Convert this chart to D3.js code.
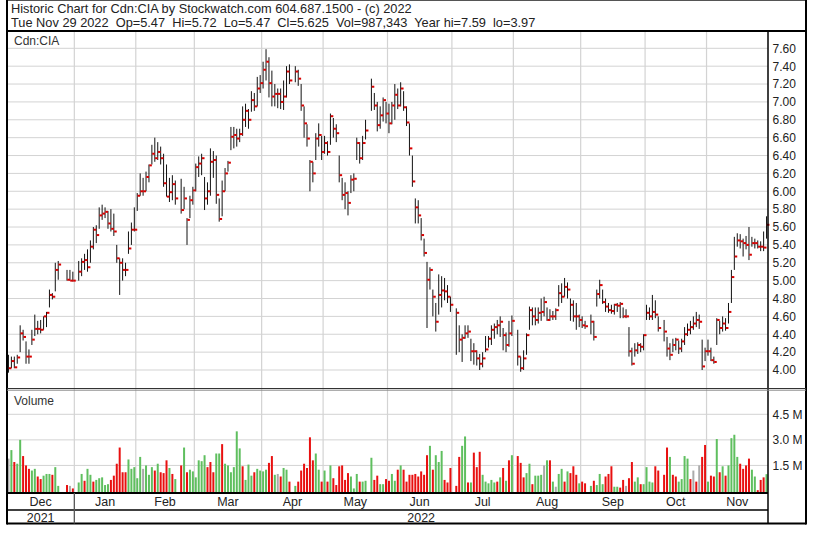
<!DOCTYPE html>
<html><head><meta charset="utf-8">
<script src="https://cdn.jsdelivr.net/npm/d3@7"></script>
<style>
body{margin:0;background:#fff}
svg{display:block}
text{font-family:"Liberation Sans",Arial,sans-serif}
</style>
</head><body>
<svg id="c" width="817" height="534"></svg>
<script>
// ---------------- DATA ----------------
const titleLine1 = "Historic Chart for Cdn:CIA by Stockwatch.com 604.687.1500 - (c) 2022";
const titleLine2 = "Tue Nov 29 2022  Op=5.47  Hi=5.72  Lo=5.47  Cl=5.625  Vol=987,343  Year hi=7.59  lo=3.97";
const symbolLabel = "Cdn:CIA";
const volumeLabel = "Volume";
const firstDay = "2021-12-01", lastDay = "2022-11-29";
const holidays = ["2021-12-27","2021-12-28","2022-01-03","2022-02-21","2022-04-15","2022-05-23","2022-07-01","2022-08-01","2022-09-05","2022-10-10"];
const monthNames = ["Dec","Jan","Feb","Mar","Apr","May","Jun","Jul","Aug","Sep","Oct","Nov"];
const yearLabels = ["2021","2022"];
const priceTicks = [4.00,4.20,4.40,4.60,4.80,5.00,5.20,5.40,5.60,5.80,6.00,6.20,6.40,6.60,6.80,7.00,7.20,7.40,7.60];
const volumeTicks = [1.5,3.0,4.5];            // millions
const volumeTickLabels = ["1.5 M","3.0 M","4.5 M"];

// one value per trading day, month by month
const highs = [
 4.17,4.15,4.15,4.17,4.50,4.45,4.32,4.23,4.45,4.62,4.55,4.56,4.60,4.65,4.90,4.86,5.20,5.22,5.12,5.12,5.10,
 5.22,5.25,5.30,5.35,5.45,5.60,5.62,5.82,5.85,5.82,5.78,5.80,5.75,5.40,5.25,5.25,5.20,5.55,5.65,5.82,
 5.98,6.20,6.15,6.22,6.30,6.52,6.60,6.55,6.50,6.42,6.30,6.15,6.18,6.12,6.14,6.05,5.70,5.95,6.05,
 6.31,6.39,6.42,6.16,6.10,6.48,6.45,6.40,5.92,6.12,6.26,6.34,6.72,6.72,6.70,6.70,6.95,6.98,6.92,7.12,7.10,7.28,7.30,
 7.45,7.59,7.50,7.35,7.20,7.15,7.15,7.24,7.40,7.42,7.40,7.36,7.20,6.95,6.75,6.35,6.33,6.65,6.76,6.62,
 6.62,6.56,6.87,6.82,6.75,6.40,6.15,6.10,6.00,6.18,6.20,6.60,6.55,6.62,6.80,7.26,7.10,7.00,6.95,7.05,7.00,
 6.98,7.00,7.20,7.15,7.22,7.12,6.95,6.76,6.40,5.92,5.90,5.70,5.47,5.21,5.15,4.90,4.75,5.07,5.05,5.03,4.95,4.82,
 4.69,4.50,4.40,4.50,4.50,4.35,4.30,4.22,4.18,4.20,4.38,4.38,4.50,4.52,4.56,4.60,4.47,4.42,4.55,4.61,
 4.45,4.15,4.22,4.41,4.71,4.70,4.70,4.70,4.80,4.82,4.70,4.68,4.66,4.69,4.95,4.97,5.03,4.98,4.80,4.78,4.75,4.62,
 4.60,4.55,4.62,4.55,4.90,5.01,4.90,4.80,4.75,4.73,4.74,4.75,4.76,4.70,4.68,4.48,4.25,4.30,4.31,4.30,4.40,
 4.73,4.70,4.84,4.78,4.60,4.56,4.37,4.30,4.35,4.36,4.33,4.35,4.48,4.52,4.55,4.60,4.65,4.62,4.34,4.25,
 4.34,4.25,4.15,4.58,4.55,4.60,4.58,4.75,5.12,5.49,5.53,5.52,5.47,5.50,5.60,5.49,5.47,5.45,5.44,5.55,5.72
];
const lows = [
 3.97,4.02,4.02,4.07,4.20,4.33,4.07,4.07,4.28,4.38,4.40,4.41,4.45,4.48,4.70,4.79,4.88,5.01,5.00,5.00,4.99,
 5.00,5.05,5.12,5.10,5.20,5.35,5.42,5.58,5.68,5.70,5.58,5.55,5.50,5.20,4.84,5.00,5.05,5.30,5.40,5.55,
 5.78,5.95,5.95,6.00,6.10,6.30,6.33,6.35,6.30,6.05,5.94,5.88,5.90,5.85,5.75,5.80,5.40,5.70,5.85,
 6.00,6.16,6.18,5.79,5.85,5.95,6.15,5.86,5.66,5.72,6.00,6.22,6.46,6.48,6.50,6.55,6.62,6.72,6.70,6.89,6.90,6.95,7.10,
 7.15,7.24,7.05,6.95,6.95,6.93,6.92,6.91,7.05,7.20,7.22,7.18,6.90,6.60,6.50,6.00,6.10,6.35,6.50,6.35,
 6.42,6.40,6.52,6.60,6.55,6.10,5.90,5.80,5.73,5.98,6.00,6.35,6.31,6.35,6.58,6.90,6.91,6.67,6.70,6.78,6.76,
 6.65,6.75,6.80,6.92,6.95,6.90,6.73,6.40,6.05,5.64,5.64,5.45,5.27,4.47,4.90,4.60,4.43,4.62,4.70,4.78,4.75,4.65,
 4.17,4.20,4.09,4.35,4.36,4.10,4.06,4.05,4.00,4.03,4.20,4.25,4.28,4.35,4.40,4.37,4.22,4.20,4.26,4.38,
 4.05,3.98,4.00,4.17,4.45,4.50,4.50,4.52,4.55,4.60,4.55,4.55,4.56,4.56,4.71,4.75,4.82,4.80,4.55,4.54,4.45,4.48,
 4.47,4.46,4.40,4.33,4.71,4.80,4.74,4.65,4.64,4.63,4.62,4.65,4.58,4.58,4.58,4.15,4.05,4.15,4.18,4.20,4.22,
 4.56,4.56,4.56,4.58,4.43,4.32,4.15,4.11,4.20,4.22,4.18,4.20,4.28,4.38,4.40,4.45,4.48,4.46,4.00,4.10,
 4.16,4.10,4.07,4.28,4.40,4.43,4.44,4.52,4.75,5.12,5.38,5.36,5.27,5.35,5.23,5.38,5.36,5.36,5.33,5.33,5.47
];
const closes = [
 4.02,4.10,4.03,4.14,4.41,4.37,4.15,4.15,4.34,4.46,4.46,4.45,4.60,4.64,4.84,4.82,5.12,5.18,5.01,5.00,5.00,
 5.10,5.21,5.23,5.15,5.38,5.57,5.51,5.73,5.75,5.77,5.64,5.58,5.55,5.25,5.20,5.12,5.12,5.36,5.57,5.57,
 5.95,6.00,6.00,6.16,6.29,6.42,6.37,6.44,6.37,6.09,5.94,5.99,6.08,5.92,5.79,5.92,5.68,5.90,6.01,
 6.27,6.31,6.37,5.92,6.00,6.33,6.35,5.96,5.69,6.00,6.20,6.32,6.61,6.63,6.59,6.64,6.80,6.90,6.80,7.02,6.95,7.15,7.21,
 7.36,7.45,7.21,7.06,7.09,7.09,7.00,7.06,7.34,7.24,7.34,7.26,6.96,6.76,6.59,6.33,6.20,6.59,6.63,6.44,
 6.54,6.44,6.84,6.70,6.65,6.18,5.96,5.98,5.87,6.13,6.14,6.54,6.37,6.54,6.68,7.17,6.96,6.74,6.85,7.02,6.87,
 6.76,6.96,7.08,6.96,7.15,6.94,6.77,6.48,6.11,5.82,5.73,5.51,5.31,5.01,5.12,4.82,4.54,4.84,4.89,4.88,4.82,4.73,
 4.64,4.34,4.36,4.41,4.43,4.21,4.21,4.13,4.07,4.13,4.23,4.35,4.45,4.48,4.50,4.54,4.39,4.28,4.41,4.55,
 4.15,4.02,4.13,4.39,4.67,4.60,4.56,4.64,4.65,4.76,4.56,4.60,4.60,4.67,4.86,4.82,4.93,4.90,4.73,4.60,4.60,4.56,
 4.50,4.49,4.54,4.37,4.85,4.95,4.76,4.71,4.67,4.66,4.73,4.72,4.74,4.60,4.60,4.21,4.07,4.22,4.28,4.26,4.39,
 4.64,4.60,4.65,4.62,4.47,4.43,4.24,4.17,4.28,4.34,4.24,4.32,4.40,4.45,4.48,4.52,4.56,4.54,4.04,4.21,
 4.21,4.11,4.09,4.56,4.47,4.52,4.47,4.65,5.04,5.27,5.45,5.44,5.42,5.40,5.29,5.42,5.42,5.38,5.38,5.37,5.625
];
const volumes = [ // millions
 1.9,2.4,1.7,1.6,3.0,2.05,1.5,1.3,1.2,1.3,0.85,0.7,0.9,1.0,1.0,0.95,1.4,0.3,0.35,0.3,0.15,
 0.5,1.0,0.6,1.3,0.95,0.55,0.65,0.75,0.8,0.35,0.4,0.65,0.9,1.6,2.55,1.1,1.1,1.85,1.3,1.4,
 0.75,2.0,1.3,1.5,0.95,1.4,1.2,1.6,1.1,1.05,1.8,1.35,1.0,0.7,1.5,2.55,1.1,1.25,1.15,
 0.8,1.8,1.75,2.1,1.4,1.7,1.1,2.2,2.2,2.75,1.6,1.5,1.1,1.4,3.5,2.5,1.45,0.65,1.55,0.9,1.1,1.3,1.2,
 1.15,1.25,1.65,2.05,0.95,1.0,0.85,1.35,1.25,0.55,0.3,0.55,1.2,1.6,1.35,3.15,1.8,2.2,1.25,0.55,
 1.2,0.55,1.5,0.75,0.35,1.45,1.5,0.65,1.05,0.85,0.15,1.0,0.55,0.55,0.6,1.95,0.65,0.9,0.4,0.4,0.7,
 0.6,1.0,0.6,1.25,1.5,1.25,0.55,0.95,0.95,1.0,0.85,1.15,0.95,2.1,2.65,1.25,2.1,1.7,2.35,0.65,0.5,1.35,
 0.3,2.0,2.65,3.2,0.5,0.5,2.25,1.4,2.3,0.95,0.55,0.45,0.65,0.5,0.55,0.8,1.35,0.6,1.8,2.1,
 2.05,1.65,0.8,1.05,1.6,0.4,0.9,0.9,0.95,1.5,1.8,1.8,0.55,0.25,1.0,1.3,0.55,1.15,1.05,1.45,0.95,0.45,
 0.55,0.45,0.3,0.6,0.35,1.0,0.4,0.85,1.0,1.45,0.25,0.25,0.2,0.65,0.3,0.75,1.7,0.55,0.8,0.4,0.4,
 1.4,0.55,0.5,1.45,1.2,0.95,2.55,2.0,0.95,0.85,0.55,0.7,2.05,1.9,0.7,1.2,0.55,1.5,2.0,2.7,
 0.55,0.9,0.85,3.05,1.1,1.45,0.9,1.5,3.1,3.3,2.0,1.6,1.3,1.5,1.9,1.25,0.85,0.05,0.65,0.8,0.987
];
const volumeDir = [ // 1 up (green), -1 down (red), 0 unchanged (grey)
 0,1,-1,1,1,-1,-1,-1,1,1,-1,-1,1,1,1,-1,1,1,-1,0,-1,
 1,1,-1,1,1,-1,1,1,1,1,1,-1,-1,-1,-1,-1,-1,1,1,1,
 1,1,0,1,1,1,-1,1,-1,-1,-1,1,-1,1,-1,1,-1,1,1,
 1,1,1,1,-1,-1,-1,1,1,-1,1,1,1,1,1,1,-1,1,1,1,-1,1,1,
 1,1,-1,-1,1,0,-1,1,1,-1,1,-1,-1,-1,-1,-1,-1,1,1,-1,
 1,-1,1,-1,-1,-1,-1,-1,-1,1,1,1,-1,1,1,1,-1,-1,1,1,-1,
 -1,1,1,-1,1,-1,-1,-1,-1,-1,-1,-1,-1,-1,1,-1,1,1,1,-1,-1,-1,
 -1,-1,1,1,-1,1,-1,-1,-1,1,1,1,1,1,-1,1,-1,1,-1,1,
 -1,-1,-1,1,1,-1,1,1,1,0,1,-1,1,0,1,1,-1,1,-1,-1,-1,1,
 -1,-1,1,-1,1,1,1,-1,-1,-1,1,1,-1,-1,0,-1,-1,1,1,-1,1,
 1,1,1,-1,-1,-1,-1,1,-1,-1,1,1,1,1,-1,0,-1,0,-1,-1,
 1,-1,-1,1,-1,1,-1,1,1,1,1,-1,-1,-1,-1,1,1,-1,-1,-1,1
];

// ---------------- LAYOUT ----------------
const L = 7, R = 768, OUT = 806;
const TOP = 31, PBOT = 388, VTOP = 390, VBOT = 493, MROW = 510, BOT = 523.5;
const svg = d3.select("#c");

const fmt = d3.timeFormat("%Y-%m-%d"), parse = d3.timeParse("%Y-%m-%d");
const weekdays = d3.timeDays(parse(firstDay), d3.timeDay.offset(parse(lastDay),1))
  .filter(d => d.getDay() > 0 && d.getDay() < 6).map(fmt);
const tradingDays = weekdays.filter(d => !holidays.includes(d));
const data = tradingDays.map((d,i) => ({date:d, h:highs[i], l:lows[i], c:closes[i], v:volumes[i], dir:volumeDir[i]}));

const x = d3.scaleBand().domain(weekdays).range([L, R]).paddingInner(0).paddingOuter(0);
const bw = x.bandwidth();
const yP = d3.scaleLinear().domain([4, 7.6]).range([370, 48.3]);
const yV = d3.scaleLinear().domain([0, 4.5]).range([491, 414.3]);

// month starts
const monthStarts = [];
weekdays.forEach((d,i) => { const m = d.slice(0,7); if (i===0 || weekdays[i-1].slice(0,7)!==m) monthStarts.push(d); });
const monthX = monthStarts.map((d,i) => i===0 ? L : x(d));
const monthEnds = monthX.slice(1).concat([R]);

const grid = "#d3d3d3";
// horizontal price gridlines
svg.append("g").selectAll("line").data(priceTicks).join("line")
  .attr("x1", L).attr("x2", R).attr("y1", d => yP(d)).attr("y2", d => yP(d))
  .attr("stroke", grid).attr("stroke-width", 1);
// volume gridlines
svg.append("g").selectAll("line").data(volumeTicks).join("line")
  .attr("x1", L).attr("x2", R).attr("y1", d => yV(d)).attr("y2", d => yV(d))
  .attr("stroke", grid).attr("stroke-width", 1);
// vertical month gridlines
svg.append("g").selectAll("line").data(monthX.slice(1)).join("line")
  .attr("x1", d => d).attr("x2", d => d).attr("y1", TOP).attr("y2", VBOT)
  .attr("stroke", grid).attr("stroke-width", 1.2);

// volume bars
const volColor = d => d > 0 ? "#5fbf5f" : d < 0 ? "#e81010" : "#aaaaaa";
svg.append("g").selectAll("rect").data(data).join("rect")
  .attr("x", d => x(d.date) + bw/2 - 1).attr("width", 2)
  .attr("y", d => yV(d.v)).attr("height", d => 492 - yV(d.v))
  .attr("fill", d => volColor(d.dir));

// OHLC bars
const bars = svg.append("g");
bars.selectAll("line").data(data).join("line")
  .attr("x1", d => x(d.date) + bw/2).attr("x2", d => x(d.date) + bw/2)
  .attr("y1", d => yP(d.h)).attr("y2", d => yP(d.l))
  .attr("stroke", "#111").attr("stroke-width", 1);
svg.append("g").selectAll("rect").data(data).join("rect")
  .attr("x", d => x(d.date) + bw/2 + 0.3).attr("width", 2.6)
  .attr("y", d => yP(d.c) - 1).attr("height", 2)
  .attr("fill", "#d80000");

// ---------------- FRAME ----------------
const frame = svg.append("g").attr("stroke", "#000").attr("fill", "none");
function ln(x1,y1,x2,y2,w,c){ frame.append("line").attr("x1",x1).attr("y1",y1).attr("x2",x2).attr("y2",y2).attr("stroke-width",w).attr("stroke",c||"#000"); }
ln(L, 0.5, OUT, 0.5, 1, "#555");
ln(L, TOP, OUT, TOP, 2);
ln(L, 0, L, BOT+1, 2);
ln(OUT, 0, OUT, BOT+1, 2);
ln(R, TOP, R, BOT, 1.5);
ln(L, PBOT+0.5, OUT, PBOT+0.5, 1.2, "#333");
ln(L, PBOT+2.2, OUT, PBOT+2.2, 1, "#888");
ln(L, VBOT, R, VBOT, 2);
ln(L, MROW, R, MROW, 1.5);
ln(L, BOT, OUT, BOT, 2);
// year separator (first month boundary into 2022)
ln(monthX[1], VBOT, monthX[1], BOT, 1.3, "#555");

// ---------------- TEXT ----------------
const tcol = "#222";
function fitText(sel, target){
  const w = sel.node().getComputedTextLength();
  const fs = parseFloat(sel.attr("font-size"));
  sel.attr("font-size", (fs*target/w).toFixed(2));
}
const t1 = svg.append("text").attr("x", 11).attr("y", 12.5).attr("font-size", 12.5).attr("fill", tcol)
  .style("white-space","pre").text(titleLine1);
fitText(t1, 401);
const t2 = svg.append("text").attr("x", 11).attr("y", 26.5).attr("font-size", 12.5).attr("fill", tcol)
  .style("white-space","pre").text(titleLine2);
t2.attr("font-size", t1.attr("font-size"));

svg.append("text").attr("x", 14).attr("y", 44.5).attr("font-size", 12).attr("fill", "#333").text(symbolLabel);
svg.append("text").attr("x", 14).attr("y", 405).attr("font-size", 12).attr("fill", "#333").text(volumeLabel);

// right price axis
const pAxis = d3.axisRight(yP).tickValues(priceTicks).tickFormat(d3.format(".2f")).tickSize(0).tickPadding(4.5);
const pg = svg.append("g").attr("transform", `translate(${R},0)`).call(pAxis);
pg.select(".domain").remove();
pg.selectAll("text").attr("font-size", 12).attr("fill", tcol).attr("font-family", '"Liberation Sans",Arial,sans-serif');

// right volume axis
const vAxis = d3.axisRight(yV).tickValues(volumeTicks).tickFormat((d,i) => volumeTickLabels[i]).tickSize(0).tickPadding(4.5);
const vg = svg.append("g").attr("transform", `translate(${R},0)`).call(vAxis);
vg.select(".domain").remove();
vg.selectAll("text").attr("font-size", 12).attr("fill", tcol).attr("font-family", '"Liberation Sans",Arial,sans-serif');

// month labels
svg.append("g").selectAll("text").data(monthNames).join("text")
  .attr("x", (d,i) => (monthX[i] + monthEnds[i]) / 2).attr("y", 506)
  .attr("text-anchor", "middle").attr("font-size", 12.5).attr("fill", tcol).text(d => d);
// year labels
const yearSpans = [[L, monthX[1]], [monthX[1], R]];
svg.append("g").selectAll("text").data(yearLabels).join("text")
  .attr("x", (d,i) => (yearSpans[i][0] + yearSpans[i][1]) / 2).attr("y", 521.5)
  .attr("text-anchor", "middle").attr("font-size", 12.5).attr("fill", tcol).text(d => d);
</script>
</body></html>
